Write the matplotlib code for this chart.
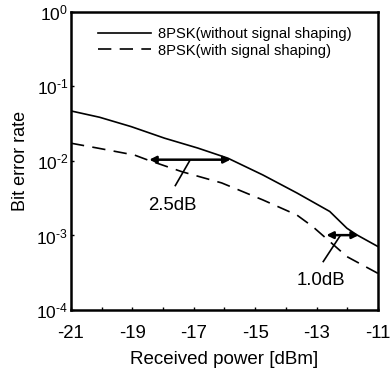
import matplotlib
matplotlib.use("Agg")
import matplotlib.pyplot as plt
from matplotlib.ticker import FixedLocator, NullLocator, FixedFormatter

plt.rcParams['font.family'] = ['Liberation Sans', 'DejaVu Sans']
plt.rcParams['mathtext.fontset'] = 'custom'
plt.rcParams['mathtext.rm'] = 'Liberation Sans'
plt.rcParams['mathtext.it'] = 'Liberation Sans'
plt.rcParams['axes.unicode_minus'] = False

# Data
power_solid = [-21.0, -20.07, -19.04, -17.95, -16.87, -15.89, -14.75, -13.64, -12.57, -12.01, -11.69, -11.0]
ber_solid = [0.0469, 0.0386, 0.0289, 0.0202, 0.0149, 0.0109, 0.00649, 0.00372, 0.0021, 0.00125, 0.00102, 0.00071]
power_dashed = [-21.0, -20.14, -18.93, -18.5, -17.39, -16.09, -14.75, -13.64, -13.12, -12.57, -12.01, -11.0]
ber_dashed = [0.0173, 0.0149, 0.0120, 0.0103, 0.00718, 0.00507, 0.0030, 0.00188, 0.00131, 0.00083, 0.00052, 0.00031]
labels = ['8PSK(without signal shaping)', '8PSK(with signal shaping)']
x_ticks = [-21, -19, -17, -15, -13, -11]
y_ticks = [1e-4, 1e-3, 1e-2, 1e-1, 1e0]
y_exponents = ['-4', '-3', '-2', '-1', '0']

fig = plt.figure(figsize=(3.9, 3.73), dpi=100)
ax = fig.add_axes([0.182, 0.169, 0.787, 0.799])

ax.plot(power_solid, ber_solid, color='black', lw=1.2, label=labels[0])
ax.plot(power_dashed, ber_dashed, color='black', lw=1.2, dashes=(8, 5), label=labels[1])

ax.set_yscale('log')
ax.set_xlim(-21, -11)
ax.set_ylim(1e-4, 1e0)
ax.xaxis.set_major_locator(FixedLocator(x_ticks))
ax.xaxis.set_minor_locator(FixedLocator(list(range(-21, -10))))
ax.yaxis.set_major_locator(FixedLocator(y_ticks))
ax.yaxis.set_minor_locator(NullLocator())
ax.yaxis.set_major_formatter(FixedFormatter(
    ['$\\mathregular{10^{\\text{' + e + '}}}$' for e in y_exponents]))
ax.tick_params(which='both', direction='in', length=2, width=1)
ax.tick_params(axis='x', labelsize=13.4, pad=11)
ax.tick_params(axis='y', labelsize=12.5, pad=2)
for s in ax.spines.values():
    s.set_linewidth(1.8)

ax.set_xlabel('Received power [dBm]', fontsize=13.5, labelpad=6)
ax.set_ylabel('Bit error rate', fontsize=13, labelpad=5)

leg = ax.legend(loc='upper left', bbox_to_anchor=(0.045, 0.995), frameon=False,
                fontsize=10.6, handlelength=3.6, handletextpad=0.45, labelspacing=0.2)

# 2.5 dB annotation
ax.annotate('', xy=(-18.45, 0.0104), xytext=(-15.8, 0.0104),
            arrowprops=dict(arrowstyle='<|-|>', color='black', lw=1.8,
                            mutation_scale=10, shrinkA=0, shrinkB=0))
ax.plot([-17.13, -17.6], [10**-1.995, 10**-2.33], color='black', lw=1.2)
ax.text(-17.69, 10**-2.6, '2.5dB', fontsize=13.4, ha='center', va='center')

# 1.0 dB annotation
ax.annotate('', xy=(-12.68, 0.00101), xytext=(-11.62, 0.00101),
            arrowprops=dict(arrowstyle='<|-|>', color='black', lw=1.8,
                            mutation_scale=10, shrinkA=0, shrinkB=0))
ax.plot([-12.24, -12.78], [10**-3.01, 10**-3.35], color='black', lw=1.2)
ax.text(-12.84, 10**-3.6, '1.0dB', fontsize=13.4, ha='center', va='center')

fig.savefig('out.png', dpi=100)
